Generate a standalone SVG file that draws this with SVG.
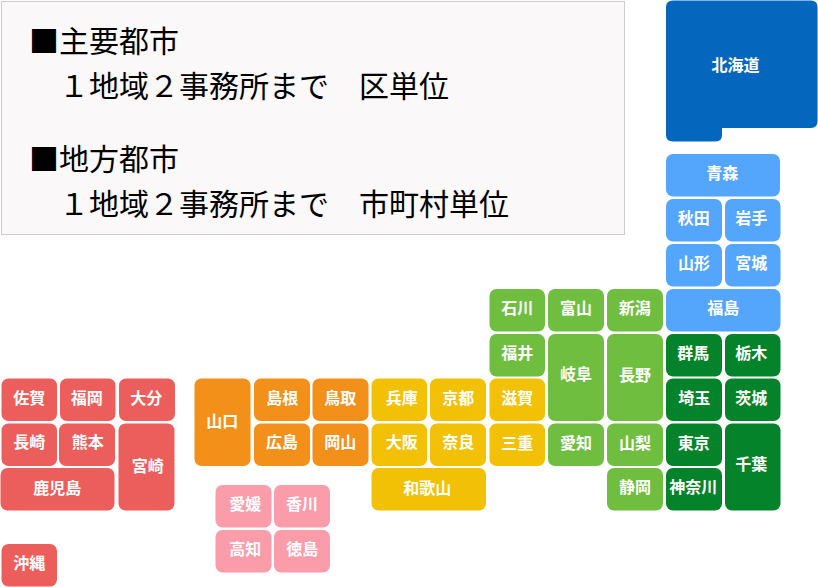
<svg xmlns="http://www.w3.org/2000/svg" width="818" height="587" viewBox="0 0 818 587">
<style>
text{font-family:"Noto Sans CJK JP","Noto Sans",sans-serif}
.p{font-size:30px;fill:#000}
.n text{font-size:16px;font-weight:700;fill:#fff;text-anchor:middle}
.hk{fill:#0566bd}.th{fill:#53a6fb}.cb{fill:#6fbe3f}.kt{fill:#05832b}.kk{fill:#f2c004}.cg{fill:#f29019}.ks{fill:#ec5e5b}.sk{fill:#fb9cab}
</style>
<rect id="legend-panel" x="1.500" y="1.500" width="623" height="233" fill="#fbf8f9" stroke="#ccc"/>
<g id="legend-text">
<text class="p" x="29" y="52">■主要都市</text>
<text class="p" x="59" y="97">１地域２事務所まで　区単位</text>
<text class="p" x="29" y="170">■地方都市</text>
<text class="p" x="59" y="215">１地域２事務所まで　市町村単位</text>
</g>
<g id="connectors"/>
<g class="n">
<g id="hokkaido"><path class="hk" d="M673 .5H811Q817.500 .5 817.500 7V121.500Q817.500 128 811 128H722V135Q722 141.500 715.500 141.500H673Q666 141.500 666 135V7Q666 .5 673 .5Z"/><text x="735.500" y="71">北海道</text></g>
<g id="aomori"><rect class="th" x="666" y="154" width="114" height="42.500" rx="7"/><text x="722.300" y="179.300">青森</text></g>
<g id="akita"><rect class="th" x="666" y="199" width="56" height="42.500" rx="7"/><text x="693.700" y="224.300">秋田</text></g>
<g id="iwate"><rect class="th" x="725" y="199" width="55.500" height="42.500" rx="7"/><text x="751.300" y="224.300">岩手</text></g>
<g id="yamagata"><rect class="th" x="666" y="244" width="56" height="42.500" rx="7"/><text x="694" y="269.300">山形</text></g>
<g id="miyagi"><rect class="th" x="725" y="244" width="55.500" height="42.500" rx="7"/><text x="751.300" y="269.300">宮城</text></g>
<g id="fukushima"><rect class="th" x="666" y="289" width="114.500" height="42.500" rx="7"/><text x="723.300" y="314">福島</text></g>
<g id="ishikawa"><rect class="cb" x="489.500" y="289" width="55.500" height="42.500" rx="7"/><text x="517.300" y="314">石川</text></g>
<g id="toyama"><rect class="cb" x="548" y="289" width="56" height="42.500" rx="7"/><text x="576" y="314">富山</text></g>
<g id="niigata"><rect class="cb" x="607" y="289" width="56" height="42.500" rx="7"/><text x="634.700" y="314">新潟</text></g>
<g id="fukui"><rect class="cb" x="489.500" y="334" width="55.500" height="42.500" rx="7"/><text x="517.300" y="358.700">福井</text></g>
<g id="gifu"><rect class="cb" x="548" y="334" width="56" height="87" rx="7"/><text x="576" y="380.300">岐阜</text></g>
<g id="nagano"><rect class="cb" x="607" y="334" width="56" height="87" rx="7"/><text x="635" y="381">長野</text></g>
<g id="gunma"><rect class="kt" x="666" y="334" width="56" height="42.500" rx="7"/><text x="693.300" y="358.700">群馬</text></g>
<g id="tochigi"><rect class="kt" x="725" y="334" width="55.500" height="42.500" rx="7"/><text x="751.300" y="358.700">栃木</text></g>
<g id="saitama"><rect class="kt" x="666" y="378.500" width="56" height="42.500" rx="7"/><text x="694.300" y="403.700">埼玉</text></g>
<g id="ibaraki"><rect class="kt" x="725" y="378.500" width="55.500" height="42.500" rx="7"/><text x="751.300" y="403.700">茨城</text></g>
<g id="tokyo"><rect class="kt" x="666" y="423.500" width="56" height="42.500" rx="7"/><text x="693.700" y="448.700">東京</text></g>
<g id="chiba"><rect class="kt" x="725" y="423.500" width="55.500" height="87" rx="7"/><text x="751.300" y="470.300">千葉</text></g>
<g id="kanagawa"><rect class="kt" x="666" y="468" width="56" height="42.500" rx="7"/><text x="693.300" y="493.300">神奈川</text></g>
<g id="aichi"><rect class="cb" x="548" y="423.500" width="56" height="42.500" rx="7"/><text x="576" y="448.700">愛知</text></g>
<g id="yamanashi"><rect class="cb" x="607" y="423.500" width="56" height="42.500" rx="7"/><text x="635" y="448.700">山梨</text></g>
<g id="shizuoka"><rect class="cb" x="607" y="468" width="56" height="42.500" rx="7"/><text x="635" y="493.300">静岡</text></g>
<g id="shiga"><rect class="kk" x="489.500" y="378.500" width="55.500" height="42.500" rx="7"/><text x="517.300" y="403.700">滋賀</text></g>
<g id="mie"><rect class="kk" x="489.500" y="423.500" width="55.500" height="42.500" rx="7"/><text x="517.300" y="448.700">三重</text></g>
<g id="hyogo"><rect class="kk" x="371.500" y="378.500" width="55.500" height="42.500" rx="7"/><text x="401.700" y="403.700">兵庫</text></g>
<g id="kyoto"><rect class="kk" x="430" y="378.500" width="56" height="42.500" rx="7"/><text x="458.300" y="403.700">京都</text></g>
<g id="osaka"><rect class="kk" x="371.500" y="423.500" width="55.500" height="42.500" rx="7"/><text x="401.700" y="448.300">大阪</text></g>
<g id="nara"><rect class="kk" x="430" y="423.500" width="56" height="42.500" rx="7"/><text x="458.300" y="448.300">奈良</text></g>
<g id="wakayama"><rect class="kk" x="371.500" y="468" width="114.500" height="42.500" rx="7"/><text x="427.300" y="493.700">和歌山</text></g>
<g id="yamaguchi"><rect class="cg" x="194.500" y="378.500" width="56" height="87.500" rx="7"/><text x="222.300" y="426.700">山口</text></g>
<g id="shimane"><rect class="cg" x="254" y="378.500" width="56" height="42.500" rx="7"/><text x="282.300" y="403.700">島根</text></g>
<g id="tottori"><rect class="cg" x="312.500" y="378.500" width="56" height="42.500" rx="7"/><text x="340.300" y="403.700">鳥取</text></g>
<g id="hiroshima"><rect class="cg" x="254" y="423.500" width="56" height="42.500" rx="7"/><text x="282" y="448.300">広島</text></g>
<g id="okayama"><rect class="cg" x="312.500" y="423.500" width="56" height="42.500" rx="7"/><text x="340.300" y="448.300">岡山</text></g>
<g id="ehime"><rect class="sk" x="215.500" y="485" width="56" height="42.500" rx="7"/><text x="245.300" y="510.300">愛媛</text></g>
<g id="kagawa"><rect class="sk" x="274" y="485" width="56" height="42.500" rx="7"/><text x="302" y="510.300">香川</text></g>
<g id="kochi"><rect class="sk" x="215.500" y="530" width="56" height="42.500" rx="7"/><text x="245.300" y="555.300">高知</text></g>
<g id="tokushima"><rect class="sk" x="274" y="530" width="56" height="42.500" rx="7"/><text x="302.300" y="555.300">徳島</text></g>
<g id="saga"><rect class="ks" x="1.500" y="378.500" width="55.500" height="42.500" rx="7"/><text x="29.300" y="403.700">佐賀</text></g>
<g id="fukuoka"><rect class="ks" x="60" y="378.500" width="55.500" height="42.500" rx="7"/><text x="86.700" y="403.700">福岡</text></g>
<g id="oita"><rect class="ks" x="119" y="378.500" width="56" height="42.500" rx="7"/><text x="146.300" y="403.700">大分</text></g>
<g id="nagasaki"><rect class="ks" x="1.500" y="423.500" width="55.500" height="42.500" rx="7"/><text x="29.300" y="448.300">長崎</text></g>
<g id="kumamoto"><rect class="ks" x="59" y="423.500" width="56" height="42.500" rx="7"/><text x="87.700" y="448.300">熊本</text></g>
<g id="kagoshima"><rect class="ks" x=".5" y="468" width="114" height="42.500" rx="7"/><text x="57.300" y="493.700">鹿児島</text></g>
<g id="miyazaki"><rect class="ks" x="118.500" y="423.500" width="56" height="87" rx="7"/><text x="147.700" y="472">宮崎</text></g>
<g id="okinawa"><rect class="ks" x="1.500" y="544" width="55.500" height="42.500" rx="7"/><text x="29.300" y="568.700">沖縄</text></g>
</g>
</svg>
